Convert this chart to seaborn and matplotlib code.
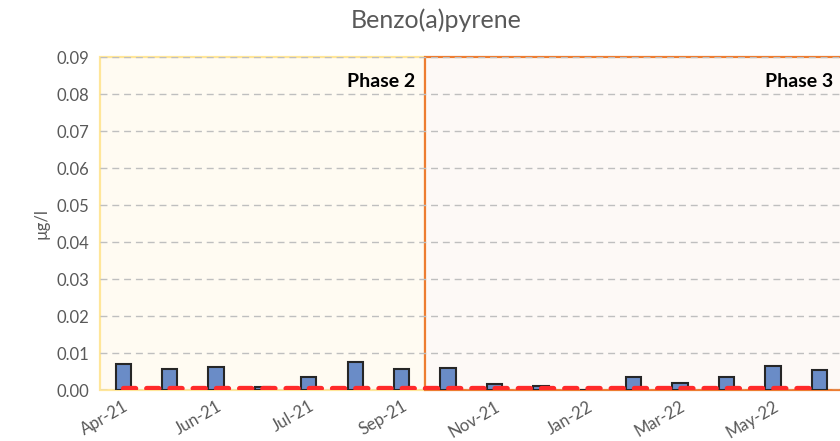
import numpy as np
import pandas as pd
import matplotlib
matplotlib.use("Agg")
import matplotlib.pyplot as plt
from matplotlib.patches import Rectangle
from matplotlib.ticker import FormatStrFormatter, MultipleLocator
import seaborn as sns

# sampling rounds (one bar per round), only every other one is labelled
tick_labels = ["Apr-21", "", "Jun-21", "", "Jul-21", "", "Sep-21", "",
               "Nov-21", "", "Jan-22", "", "Mar-22", "", "May-22", ""]
bap = [0.0070, 0.0057, 0.0063, 0.0009, 0.0036, 0.0076, 0.0057, 0.0060,
       0.0017, 0.0012, 0.0000, 0.0036, 0.0019, 0.0036, 0.0066, 0.0055]
limit = 0.0005  # red dashed reference line
phase_names = ["Phase 2", "Phase 3"]
phase_sizes = [7, 9]
phase_edges = ["#FFE699", "#ED7D31"]
phase_fills = ["#FFFBF2", "#FDF9F6"]

sns.set_style("white")
plt.rcParams["font.family"] = ["Lato", "DejaVu Sans"]

n = len(bap)
df = pd.DataFrame({"sample": [str(i) for i in range(n)], "value": bap})

fig = plt.figure(figsize=(8.4, 4.41), dpi=100)
ax = fig.add_axes([0.119, 0.1156, 0.884, 0.755])

# phase backgrounds
start = -0.5
for name, size, ec, fc in zip(phase_names, phase_sizes, phase_edges, phase_fills):
    ax.add_patch(Rectangle((start, 0), size, 0.09, facecolor=fc, edgecolor=ec,
                           linewidth=1.6, zorder=0.5, clip_on=False))
    ax.text(start + size - 0.2, 0.0835, name, ha="right", va="center",
            fontsize=14, fontweight="bold", color="black", zorder=3)
    start += size

ax.yaxis.grid(True, color="#BFBFBF", linestyle=(0, (5, 3.5)), linewidth=1)
ax.set_axisbelow(True)

sns.barplot(data=df, x="sample", y="value", color="#6A8CC7", width=0.33,
            edgecolor="#262626", linewidth=1.5, saturation=1, ax=ax, zorder=2)

sns.lineplot(x=np.arange(n), y=[limit] * n, color="#FF2A2A", linewidth=3.8,
             ax=ax, zorder=4)
ax.lines[-1].set_dashes([2.3, 2.1])
ax.lines[-1].set_dash_capstyle("round")

ax.set_xlim(-0.5, n - 0.5)
ax.set_ylim(0, 0.09)
ax.yaxis.set_major_locator(MultipleLocator(0.01))
ax.yaxis.set_major_formatter(FormatStrFormatter("%.2f"))

ax.set_xticks(np.arange(n))
ax.set_xticklabels(tick_labels, rotation=30, ha="right", rotation_mode="anchor")
ax.set_xticks(np.arange(n + 1) - 0.5, minor=True)
ax.tick_params(axis="x", which="major", length=0, pad=6, labelsize=12,
               labelcolor="#595959")
ax.tick_params(axis="x", which="minor", length=4, color="#D9D9D9", width=1)
ax.tick_params(axis="y", length=0, labelsize=12, labelcolor="#595959", pad=8)

for s in ax.spines.values():
    s.set_visible(False)

ax.set_xlabel("")
ax.set_ylabel("µg/l", fontsize=12, color="#595959", labelpad=5)
fig.suptitle("Benzo(a)pyrene", x=0.519, y=0.98, fontsize=18, color="#595959")

fig.savefig("out.png", dpi=100)
